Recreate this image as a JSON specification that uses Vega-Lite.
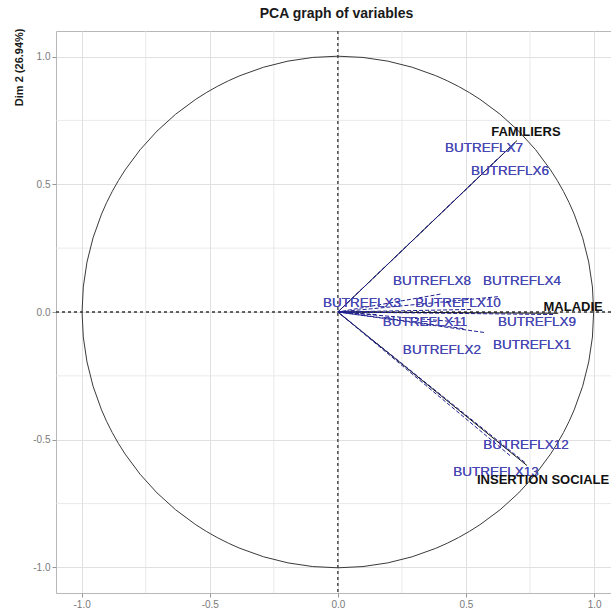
{
  "$schema": "https://vega.github.io/schema/vega-lite/v6.json",
  "autosize": {"type": "none"},
  "padding": {"left": 56, "top": 31, "right": 0, "bottom": 20},
  "width": 555,
  "height": 562,
  "title": {"text": "PCA graph of variables", "fontSize": 14, "fontWeight": "bold", "font": "Liberation Sans", "color": "#1a1a1a", "anchor": "middle", "offset": 7, "dx": 3},
  "config": {"view": {"stroke": "#b8b8b8", "strokeWidth": 1}, "font": "Liberation Sans"},
  "datasets": {
    "vars": [
      {"name": "BUTREFLX7", "grp": "active", "x": 0.691, "y": 0.663, "lx": 0.570, "ly": 0.643},
      {"name": "BUTREFLX6", "grp": "active", "x": 0.621, "y": 0.597, "lx": 0.672, "ly": 0.553},
      {"name": "BUTREFLX12", "grp": "active", "x": 0.672, "y": -0.562, "lx": 0.734, "ly": -0.519},
      {"name": "BUTREFLX13", "grp": "active", "x": 0.730, "y": -0.589, "lx": 0.617, "ly": -0.625},
      {"name": "BUTREFLX4", "grp": "active", "x": 0.625, "y": 0.060, "lx": 0.719, "ly": 0.120},
      {"name": "BUTREFLX8", "grp": "active", "x": 0.400, "y": 0.070, "lx": 0.367, "ly": 0.120},
      {"name": "BUTREFLX10", "grp": "active", "x": 0.520, "y": 0.010, "lx": 0.469, "ly": 0.037},
      {"name": "BUTREFLX3", "grp": "active", "x": 0.150, "y": -0.010, "lx": 0.094, "ly": 0.037},
      {"name": "BUTREFLX11", "grp": "active", "x": 0.480, "y": -0.040, "lx": 0.340, "ly": -0.040},
      {"name": "BUTREFLX9", "grp": "active", "x": 0.840, "y": -0.010, "lx": 0.777, "ly": -0.040},
      {"name": "BUTREFLX1", "grp": "active", "x": 0.570, "y": -0.080, "lx": 0.758, "ly": -0.128},
      {"name": "BUTREFLX2", "grp": "active", "x": 0.490, "y": -0.065, "lx": 0.406, "ly": -0.147},
      {"name": "FAMILIERS", "grp": "supp", "x": 0.699, "y": 0.671, "lx": 0.734, "ly": 0.706},
      {"name": "MALADIE", "grp": "supp", "x": 0.860, "y": -0.005, "lx": 0.918, "ly": 0.018},
      {"name": "INSERTION SOCIALE", "grp": "supp", "x": 0.738, "y": -0.601, "lx": 0.801, "ly": -0.657}
    ],
    "minor": [{"v": -0.75}, {"v": -0.25}, {"v": 0.25}, {"v": 0.75}]
  },
  "layer": [
    {
      "data": {"name": "minor"},
      "mark": {"type": "rule", "color": "#e4e4e4", "strokeWidth": 0.8},
      "encoding": {"x": {"field": "v", "type": "quantitative", "scale": {"domain": [-1.1, 1.066], "nice": false, "zero": false}}}
    },
    {
      "data": {"name": "minor"},
      "mark": {"type": "rule", "color": "#e4e4e4", "strokeWidth": 0.8},
      "encoding": {"y": {"field": "v", "type": "quantitative", "scale": {"domain": [-1.1, 1.1], "nice": false, "zero": false}}}
    },
    {
      "data": {"name": "vars"},
      "transform": [{"filter": "datum.grp == 'active'"}],
      "mark": {"type": "text", "align": "center", "baseline": "middle", "fontSize": 13.5, "color": "#4747b3"},
      "encoding": {
        "x": {
          "field": "lx", "type": "quantitative",
          "axis": {
            "title": null,
            "values": [-1, -0.5, 0, 0.5, 1],
            "labelExpr": "replace(format(datum.value, '.1f'), '\u2212', '-')",
            "grid": true, "gridColor": "#e0e0e0", "domain": false,
            "tickColor": "#999999", "tickSize": 4, "labelColor": "#7a7a7a", "labelFontSize": 10, "labelPadding": 2
          }
        },
        "y": {
          "field": "ly", "type": "quantitative",
          "axis": {
            "title": "Dim 2 (26.94%)", "titleFontSize": 11, "titleFontWeight": "bold", "titleColor": "#1a1a1a",
            "titleAngle": 270, "titleAnchor": "end", "titleAlign": "right", "titleBaseline": "middle", "titleX": -37, "titleY": -3,
            "values": [-1, -0.5, 0, 0.5, 1],
            "labelExpr": "replace(format(datum.value, '.1f'), '\u2212', '-')",
            "grid": true, "gridColor": "#e0e0e0", "domain": false,
            "tickColor": "#999999", "tickSize": 4, "labelColor": "#7a7a7a", "labelFontSize": 10, "labelPadding": 2
          }
        },
        "text": {"field": "name"}
      }
    },
    {
      "data": {"values": [{}]},
      "mark": {"type": "rule", "strokeDash": [3, 3], "color": "#333333", "strokeWidth": 1.3},
      "encoding": {"x": {"datum": 0, "type": "quantitative"}}
    },
    {
      "data": {"values": [{}]},
      "mark": {"type": "rule", "strokeDash": [3, 3], "color": "#333333", "strokeWidth": 1.3},
      "encoding": {"y": {"datum": 0, "type": "quantitative"}}
    },
    {
      "data": {"values": [{}]},
      "mark": {"type": "arc", "theta": 0, "theta2": 6.2832, "filled": false, "stroke": "#3a3a3a", "strokeWidth": 1},
      "encoding": {
        "x": {"datum": 0, "type": "quantitative"},
        "y": {"datum": 0, "type": "quantitative"},
        "radius": {"datum": 1, "type": "quantitative", "scale": {"type": "linear", "domain": [0, 1], "range": [0, 255.8], "zero": true}}
      }
    },
    {
      "data": {"name": "vars"},
      "transform": [{"filter": "datum.grp == 'supp'"}],
      "mark": {"type": "rule", "color": "#111111", "strokeWidth": 1},
      "encoding": {
        "x": {"field": "x", "type": "quantitative"},
        "y": {"field": "y", "type": "quantitative"},
        "x2": {"datum": 0},
        "y2": {"datum": 0}
      }
    },
    {
      "data": {"name": "vars"},
      "transform": [{"filter": "datum.grp == 'active'"}],
      "mark": {"type": "rule", "color": "#1f1f8f", "strokeWidth": 1, "strokeDash": [4, 2]},
      "encoding": {
        "x": {"field": "x", "type": "quantitative"},
        "y": {"field": "y", "type": "quantitative"},
        "x2": {"datum": 0},
        "y2": {"datum": 0}
      }
    },
    {
      "data": {"name": "vars"},
      "transform": [{"filter": "datum.grp == 'active'"}],
      "mark": {"type": "text", "align": "center", "baseline": "middle", "fontSize": 13.5, "color": "#4747b3"},
      "encoding": {
        "x": {"field": "lx", "type": "quantitative"},
        "y": {"field": "ly", "type": "quantitative"},
        "text": {"field": "name"}
      }
    },
    {
      "data": {"name": "vars"},
      "transform": [{"filter": "datum.grp == 'supp'"}],
      "mark": {"type": "text", "align": "center", "baseline": "middle", "fontSize": 13, "fontWeight": "bold", "color": "#111111"},
      "encoding": {
        "x": {"field": "lx", "type": "quantitative"},
        "y": {"field": "ly", "type": "quantitative"},
        "text": {"field": "name"}
      }
    }
  ]
}
